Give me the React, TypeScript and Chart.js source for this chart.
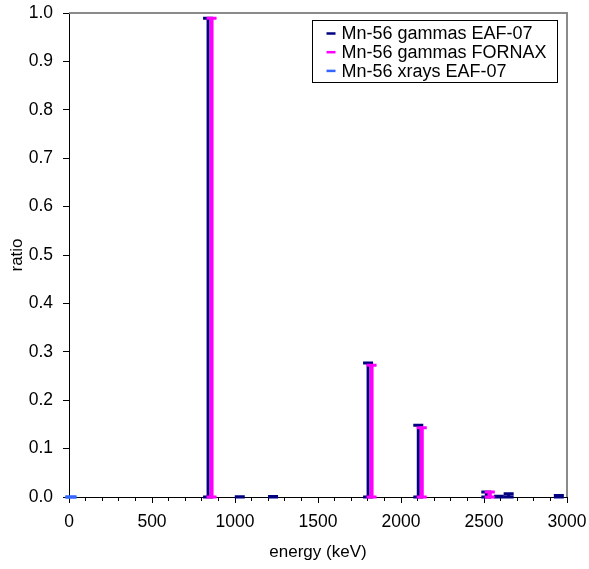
import { useEffect, useRef } from 'react';
import { Chart, registerables } from 'chart.js';

Chart.register(...registerables);

// Mn-56 emission lines: energy (keV) and intensity ratio
const EAF_ENERGY = [846.8, 1037.8, 1238.3, 1810.7, 2113.1, 2522.9, 2598.5, 2657.6, 2959.9];
const EAF_RATIO = [0.989, 0.0004, 0.001, 0.277, 0.148, 0.0102, 0.0015, 0.0065, 0.003];

const FORNAX_ENERGY = [846.8, 1810.7, 2113.1, 2522.9];
const FORNAX_RATIO = [0.989, 0.272, 0.143, 0.0102];

const XRAY_ENERGY = [5.41, 5.95];
const XRAY_RATIO = [0.0002, 0.00003];

const SERIES_LABELS = ['Mn-56 gammas EAF-07', 'Mn-56 gammas FORNAX', 'Mn-56 xrays EAF-07'];
const SERIES_COLORS = ['#000080', '#FF00FF', '#3366FF'];

const X_MIN = 0;
const X_MAX = 3000;
const X_STEP = 100;
const X_LABEL_EVERY = 500;
const Y_MIN = 0;
const Y_MAX = 1;
const Y_STEP = 0.1;

const FONT = "'Liberation Sans', Arial, sans-serif";

// per-series stem look: pixel nudge so overlapping stems stay visible
const STEM_STYLE = [
  { offset: -1.5, stem: 3, cap: 3, capHalf: 5 },
  { offset: 2, stem: 4, cap: 3, capHalf: 5 },
  { offset: 1, stem: 3, cap: 3, capHalf: 5.5 },
];

const toPoints = (xs: number[], ys: number[]) => xs.map((x, i) => ({ x, y: ys[i] }));

// vertical drop lines with end caps, drawn through the chart scales
const dropLines = {
  id: 'dropLines',
  afterDatasetsDraw(chart: any) {
    const { ctx } = chart;
    const xs = chart.scales.x;
    const ys = chart.scales.y;
    const y0 = ys.getPixelForValue(0);
    chart.data.datasets.forEach((ds: any, i: number) => {
      const st = STEM_STYLE[i];
      ctx.save();
      ctx.strokeStyle = ds.borderColor;
      ctx.lineCap = 'butt';
      ds.data.forEach((p: any) => {
        const px = xs.getPixelForValue(p.x) + st.offset;
        const py = ys.getPixelForValue(p.y);
        ctx.lineWidth = st.stem;
        ctx.beginPath();
        ctx.moveTo(px, y0);
        ctx.lineTo(px, py);
        ctx.stroke();
        ctx.lineWidth = st.cap;
        ctx.beginPath();
        ctx.moveTo(px - st.capHalf, py);
        ctx.lineTo(px + st.capHalf, py);
        ctx.moveTo(px - st.capHalf, y0);
        ctx.lineTo(px + st.capHalf, y0);
        ctx.stroke();
      });
      ctx.restore();
    });
  },
};

// grey frame on the open sides of the plot area and longer major x ticks
const plotFrame = {
  id: 'plotFrame',
  beforeDatasetsDraw(chart: any) {
    const { ctx, chartArea: a } = chart;
    ctx.save();
    ctx.strokeStyle = '#8a8a8a';
    ctx.lineWidth = 2;
    ctx.beginPath();
    ctx.moveTo(a.left, a.top);
    ctx.lineTo(a.right, a.top);
    ctx.lineTo(a.right, a.bottom);
    ctx.stroke();

    const xs = chart.scales.x;
    ctx.strokeStyle = '#000';
    ctx.lineWidth = 1;
    ctx.beginPath();
    xs.ticks.forEach((t: any) => {
      if (t.value % X_LABEL_EVERY === 0) {
        const px = Math.round(xs.getPixelForValue(t.value)) + 0.5;
        ctx.moveTo(px, a.bottom);
        ctx.lineTo(px, a.bottom + 6);
      }
    });
    ctx.stroke();
    ctx.restore();
  },
};

// boxed legend in the upper right of the plot area
const boxLegend = {
  id: 'boxLegend',
  afterDraw(chart: any) {
    const { ctx, chartArea: a } = chart;
    const w = 245;
    const h = 62;
    const left = Math.round(a.right - 10 - w) + 0.5;
    const top = Math.round(a.top + 7) + 0.5;
    ctx.save();
    ctx.fillStyle = '#fff';
    ctx.fillRect(left, top, w, h);
    ctx.strokeStyle = '#000';
    ctx.lineWidth = 1;
    ctx.strokeRect(left, top, w, h);
    ctx.font = `18px ${FONT}`;
    ctx.textBaseline = 'middle';
    ctx.textAlign = 'left';
    chart.data.datasets.forEach((ds: any, i: number) => {
      const cy = top + 13 + i * 18.7;
      ctx.strokeStyle = ds.borderColor;
      ctx.lineWidth = 2.5;
      ctx.beginPath();
      ctx.moveTo(left + 14, cy);
      ctx.lineTo(left + 23, cy);
      ctx.stroke();
      ctx.fillStyle = '#000';
      ctx.fillText(ds.label, left + 29, cy + 1);
    });
    ctx.restore();
  },
};

export default function App() {
  const canvasRef = useRef<HTMLCanvasElement | null>(null);

  useEffect(() => {
    if (!canvasRef.current) return;
    const datasets = [
      toPoints(EAF_ENERGY, EAF_RATIO),
      toPoints(FORNAX_ENERGY, FORNAX_RATIO),
      toPoints(XRAY_ENERGY, XRAY_RATIO),
    ].map((data, i) => ({
      label: SERIES_LABELS[i],
      data,
      borderColor: SERIES_COLORS[i],
      backgroundColor: SERIES_COLORS[i],
      pointRadius: 0,
      showLine: false,
    }));

    const chart = new Chart(canvasRef.current, {
      type: 'scatter',
      data: { datasets },
      plugins: [plotFrame, dropLines, boxLegend],
      options: {
        responsive: false,
        animation: false,
        layout: { padding: { top: 13, right: 22, left: 0, bottom: 0 } },
        plugins: {
          legend: { display: false },
          tooltip: { enabled: false },
        },
        scales: {
          x: {
            type: 'linear',
            min: X_MIN,
            max: X_MAX,
            afterFit: (s: any) => {
              s.height = 72;
              s.paddingLeft = 0;
              s.paddingRight = 0;
            },
            ticks: {
              stepSize: X_STEP,
              autoSkip: false,
              maxRotation: 0,
              padding: 11,
              color: '#000',
              font: { family: FONT, size: 17.5 },
              callback: (v: any) => (Number(v) % X_LABEL_EVERY === 0 ? String(v) : ''),
            },
            grid: { drawOnChartArea: false, drawTicks: true, tickLength: 4, color: '#000' },
            border: { display: true, color: '#000', width: 1 },
            title: {
              display: true,
              text: 'energy (keV)',
              color: '#000',
              font: { family: FONT, size: 17 },
              padding: { top: 0, bottom: 6 },
            },
          },
          y: {
            type: 'linear',
            min: Y_MIN,
            max: Y_MAX,
            afterFit: (s: any) => {
              s.width = 69;
              s.paddingTop = 0;
              s.paddingBottom = 0;
            },
            ticks: {
              stepSize: Y_STEP,
              padding: 10,
              color: '#000',
              font: { family: FONT, size: 17.5 },
              callback: (v: any) => Number(v).toFixed(1),
            },
            grid: { drawOnChartArea: false, drawTicks: true, tickLength: 6, color: '#000' },
            border: { display: true, color: '#000', width: 1 },
            title: {
              display: true,
              text: 'ratio',
              color: '#000',
              font: { family: FONT, size: 17 },
              padding: { top: 7, bottom: 0 },
            },
          },
        },
      },
    });
    return () => chart.destroy();
  }, []);

  return (
    <div style={{ position: 'fixed', left: 0, top: 0, width: 589, height: 569, background: '#fff' }}>
      <canvas ref={canvasRef} width={589} height={569} />
    </div>
  );
}
